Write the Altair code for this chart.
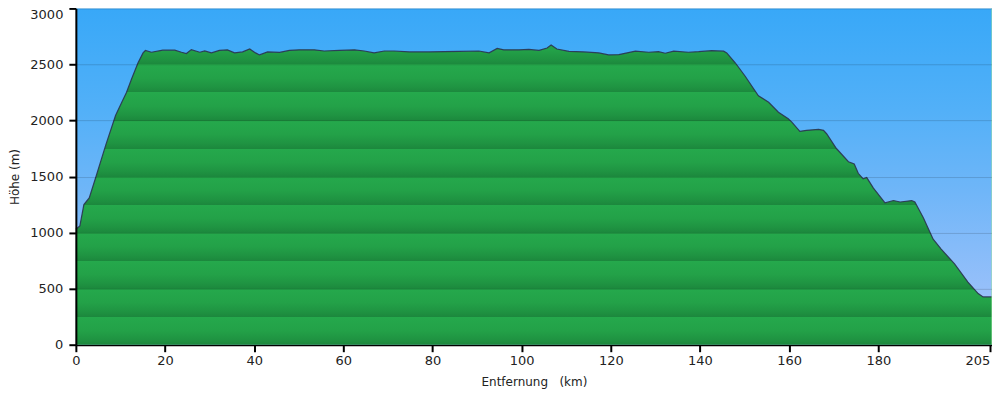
import altair as alt
import pandas as pd

km = [0.0, 0.9, 1.8, 3.0, 4.4, 6.7, 8.9, 10.3, 11.35, 12.47, 13.95, 15.07, 15.6,
      16.95, 19.5, 22.2, 23.7, 24.8, 25.9, 27.8, 28.9, 30.4, 32.2, 34.0, 35.6,
      37.4, 39.0, 40.3, 41.2, 43.0, 45.7, 47.9, 50.1, 53.5, 55.7, 59.1, 62.5,
      64.7, 66.9, 69.2, 71.4, 74.8, 79.2, 86.0, 90.4, 92.7, 94.5, 96.0, 99.4,
      101.6, 103.9, 105.7, 106.6, 107.9, 110.6, 113.9, 117.3, 119.5, 121.8,
      125.5, 128.5, 130.7, 132.2, 134.1, 137.4, 139.7, 142.6, 145.3, 146.0,
      147.9, 150.1, 153.1, 155.4, 157.6, 159.8, 160.6, 162.4, 163.9, 166.6,
      167.7, 168.4, 170.6, 173.3, 174.6, 175.5, 176.6, 177.4, 178.9, 181.5,
      183.4, 184.9, 187.5, 188.2, 190.1, 192.3, 194.1, 197.1, 200.1, 202.4,
      203.5, 205.5]
elev = [1030, 1060, 1250, 1309, 1485, 1780, 2044, 2162, 2250, 2368, 2515, 2603,
        2624, 2609, 2627, 2627, 2609, 2597, 2632, 2609, 2620, 2603, 2625, 2630,
        2603, 2612, 2638, 2603, 2585, 2612, 2607, 2625, 2630, 2630, 2620, 2625,
        2630, 2620, 2603, 2620, 2620, 2612, 2612, 2616, 2620, 2603, 2643, 2630,
        2630, 2634, 2625, 2647, 2674, 2638, 2616, 2612, 2603, 2585, 2588, 2618,
        2609, 2614, 2600, 2618, 2609, 2614, 2623, 2618, 2603, 2515, 2397, 2221,
        2162, 2074, 2015, 1985, 1903, 1912, 1921, 1912, 1882, 1750, 1632, 1612,
        1529, 1480, 1491, 1397, 1265, 1286, 1273, 1286, 1273, 1132, 941, 853,
        721, 559, 456, 426, 426]

x_ticks = [0, 20, 40, 60, 80, 100, 120, 140, 160, 180, 205]
y_ticks = [0, 250, 500, 750, 1000, 1250, 1500, 1750, 2000, 2250, 2500, 2750, 3000]

df = pd.DataFrame({"km": km, "elev": elev})

X_MAX = 205.5
Y_MAX = 3000

# green banded gradient (pattern repeats every 250 m), aligned to the area's bounding box
max_h = max(elev)
pattern = [(0.0, "#25a94c"), (0.5, "#23a148"), (0.8, "#1f9442"), (1.0, "#1c883d")]
stops = []
for k in range(11, -1, -1):
    top = 250 * (k + 1)
    for i, (t, c) in enumerate(pattern):
        h = top - t * 250
        if h > max_h:
            continue
        off = (max_h - h) / max_h + (0.0001 if i == 0 and k < 11 else 0)
        stops.append((min(max(off, 0), 1), c))
stops = [(0.0, "#22a047")] + stops
stops.sort(key=lambda s: s[0])
green = alt.Gradient(
    gradient="linear", x1=0, x2=0, y1=0, y2=1,
    stops=[alt.GradientStop(color=c, offset=o) for o, c in stops],
)

sky = alt.Gradient(
    gradient="linear", x1=0, x2=0, y1=0, y2=1,
    stops=[
        alt.GradientStop(color="#38a8f8", offset=0),
        alt.GradientStop(color="#52b0f8", offset=0.3),
        alt.GradientStop(color="#70b6f8", offset=0.55),
        alt.GradientStop(color="#98c0fa", offset=0.85),
        alt.GradientStop(color="#a4c4fa", offset=1),
    ],
)

font = "DejaVu Sans"

x_enc = alt.X(
    "km:Q",
    scale=alt.Scale(domain=[0, X_MAX], nice=False, zero=True),
    axis=alt.Axis(
        values=x_ticks, format="d", title="Entfernung\u00a0\u00a0\u00a0(km)", grid=False,
        labelFlush=False, labelAlign=alt.expr("datum.value == 205 ? 'right' : 'center'"),
        labelFontSize=13, labelColor="#222", labelPadding=3, labelFont=font,
        titleFontSize=12, titleFontWeight="normal", titleColor="#222", titleFont=font,
        titlePadding=9, tickSize=7, tickWidth=2, tickColor="#000",
        domainColor="#000", domainWidth=2,
    ),
)
y_enc = alt.Y(
    "elev:Q",
    scale=alt.Scale(domain=[0, Y_MAX], nice=False),
    axis=alt.Axis(
        values=y_ticks, format="d", title="Höhe (m)", grid=True, gridColor="#000",
        gridOpacity=0.15, gridWidth=1, zindex=1,
        labelBaseline=alt.expr("datum.value == 3000 ? 'top' : 'middle'"),
        labelFontSize=13, labelColor="#222", labelPadding=6, labelFont=font,
        titleFontSize=12, titleFontWeight="normal", titleColor="#222", titleFont=font,
        titlePadding=8, tickSize=7, tickWidth=2, tickColor="#000",
        domainColor="#000", domainWidth=2,
    ),
)

bg = alt.Chart(pd.DataFrame({"x0": [0], "x1": [X_MAX], "y0": [0], "y1": [Y_MAX]})).mark_rect(
    color=sky
).encode(
    x=alt.X("x0:Q", scale=alt.Scale(domain=[0, X_MAX], nice=False)),
    x2="x1:Q",
    y=alt.Y("y0:Q", scale=alt.Scale(domain=[0, Y_MAX], nice=False)),
    y2="y1:Q",
)
area = alt.Chart(df).mark_area(color=green, line=False, opacity=1).encode(x=x_enc, y=y_enc)
line = alt.Chart(df).mark_line(color="#2a3350", strokeWidth=1.2, opacity=0.9).encode(
    x="km:Q", y="elev:Q"
)
edge = alt.Chart(pd.DataFrame({"km": [X_MAX]})).mark_rule(color="#9fe3a4", strokeWidth=1).encode(
    x="km:Q"
)

chart = (
    alt.layer(bg, area, line, edge)
    .properties(
        width=918, height=337,
        autosize=alt.AutoSizeParams(type="none"),
        padding={"left": 68, "top": 0, "right": 0, "bottom": 48},
    )
    .configure_view(stroke=None)
)

chart.save("out.html", embed_options={"renderer": "svg", "actions": False})
